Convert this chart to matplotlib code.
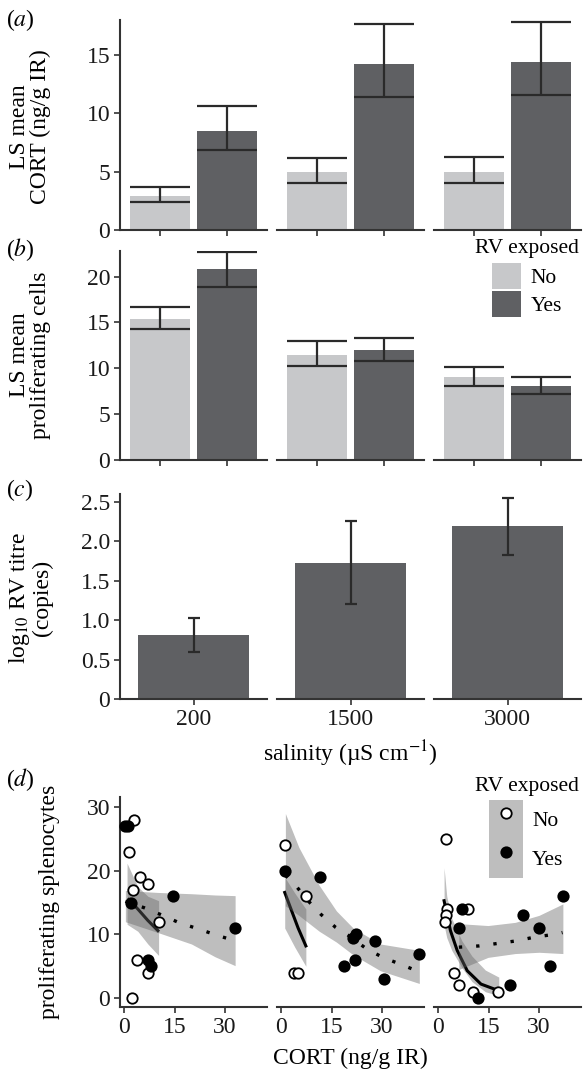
import numpy as np
import matplotlib.pyplot as plt
from matplotlib.patches import Patch
from matplotlib.lines import Line2D

plt.rcParams['font.family'] = ['Liberation Serif', 'DejaVu Serif']
plt.rcParams['mathtext.fontset'] = 'stix'
plt.rcParams['font.size'] = 17

salinity = ['200', '1500', '3000']
rv_groups = ['No', 'Yes']

# (a) LS mean CORT, one [No, Yes] pair per salinity
cort_mean = [[2.95, 8.5], [4.95, 14.2], [5.0, 14.4]]
cort_lo = [[2.4, 6.9], [4.0, 11.4], [4.05, 11.6]]
cort_hi = [[3.7, 10.6], [6.2, 17.7], [6.3, 17.8]]

# (b) LS mean proliferating cells
prolif_mean = [[15.4, 20.8], [11.5, 12.0], [9.05, 8.05]]
prolif_lo = [[14.25, 18.9], [10.2, 10.85], [8.1, 7.2]]
prolif_hi = [[16.7, 22.7], [13.0, 13.3], [10.1, 9.1]]

# (c) log10 RV titre (exposed only)
titre_mean = [0.81, 1.73, 2.19]
titre_lo = [0.60, 1.20, 1.83]
titre_hi = [1.03, 2.26, 2.55]

# (d) raw points, one list per salinity
no_cort = [[2.8, 1.3, 4.7, 6.9, 2.6, 10.2, 3.9, 6.9, 2.3],
           [1.0, 7.3, 3.7, 5.0],
           [2.2, 2.7, 2.4, 1.9, 8.7, 4.7, 6.0, 10.2, 17.9]]
no_cells = [[28, 23, 19, 18, 17, 12, 6, 4, 0],
            [24, 16, 4, 4],
            [25, 14, 13, 12, 14, 4, 2, 1, 1]]
yes_cort = [[0.3, 1.0, 2.0, 14.5, 6.9, 7.9, 33.0],
            [1.2, 11.6, 22.2, 21.4, 28.0, 41.1, 21.9, 18.6, 30.5],
            [7.0, 6.2, 25.3, 30.1, 37.0, 33.3, 21.2, 11.7]]
yes_cells = [[27, 27, 15, 16, 6, 5, 11],
             [20, 19, 10, 9.5, 9, 7, 6, 5, 3],
             [14, 11, 13, 11, 16, 5, 2, 0]]

# (d) fitted curves and confidence bands
no_fit_x = [[1.3, 4, 7, 10], [1.0, 3, 5, 7.3], [1.7, 3.6, 5.6, 8.6, 12.7, 17.8]]
no_fit_y = [[15.5, 14.0, 12.2, 10.6], [16.6, 13.8, 11.0, 8.2], [15.3, 10.6, 7.5, 4.3, 2.2, 1.2]]
no_band_x = [[0.8, 4, 7, 10.2], [1.0, 4, 7.3], [1.7, 2.5, 4, 7, 10, 14, 18]]
no_band_hi = [[21.2, 17.5, 16.0, 15.3], [19.0, 16.5, 14.0], [20.5, 16.0, 12.5, 9.0, 6.6, 4.4, 3.3]]
no_band_lo = [[11.6, 10.5, 8.5, 6.7], [11.0, 8.0, 5.0], [11.5, 9.5, 7.5, 4.8, 2.6, 1.0, 0.4]]

yes_fit_x = [[0.3, 5.9, 11.4, 16.5, 21.9, 27.4, 32.4],
             [1.2, 4.7, 8.3, 11.9, 16.2, 20.7, 25.2, 30.2, 35.1, 40.3],
             [6.1, 12.2, 17.8, 23.4, 28.8, 34.4, 37.0]]
yes_fit_y = [[15.2, 14.2, 13.0, 11.8, 10.9, 9.9, 9.1],
             [19.3, 17.4, 15.1, 13.1, 11.1, 9.6, 7.8, 6.4, 5.4, 4.3],
             [8.0, 8.2, 8.6, 9.0, 9.6, 10.0, 10.3]]
yes_band_x = [[0.3, 10, 20, 27, 33], [1.2, 5.2, 11.3, 16.4, 21.4, 29.5, 41.1], [6.1, 14.8, 22.9, 30.0, 37.1]]
yes_band_hi = [[16.9, 16.6, 16.4, 16.2, 16.1], [29.0, 23.7, 17.7, 13.7, 11.0, 8.5, 7.5], [11.7, 11.4, 11.9, 13.0, 14.8]]
yes_band_lo = [[12.0, 10.3, 8.5, 6.5, 5.1], [14.5, 13.0, 10.5, 8.8, 6.8, 4.3, 2.3], [4.5, 6.4, 7.0, 7.2, 7.0]]

W, H = 584, 1073
FACETS = [(120, 267), (277, 424), (434, 581)]
bar_colors = ['#c7c8ca', '#5f6063']
err_color = '#2a2a2a'
axis_color = '#333333'
band_color = '#646464'
band_alpha = 0.42


def box(x0, x1, top, bottom):
    return [x0 / W, 1 - bottom / H, (x1 - x0) / W, (bottom - top) / H]


def style(ax, first):
    for s in ['top', 'right']:
        ax.spines[s].set_visible(False)
    ax.spines['left'].set_visible(first)
    for s in ['left', 'bottom']:
        ax.spines[s].set_color(axis_color)
        ax.spines[s].set_linewidth(1.5)
    ax.tick_params(direction='out', length=4, width=1.2, color=axis_color,
                   labelcolor='#1a1a1a', pad=3)
    if not first:
        ax.tick_params(axis='y', left=False, labelleft=False)


def bar_panel(fig, top, bottom, means, lo, hi, ylim, yticks):
    for i, (x0, x1) in enumerate(FACETS):
        ax = fig.add_axes(box(x0, x1, top, bottom))
        for j in range(2):
            ax.bar(j, means[i][j], width=0.9, color=bar_colors[j], zorder=1)
            ax.vlines(j, lo[i][j], hi[i][j], color=err_color, lw=1.6, zorder=2)
            ax.hlines([lo[i][j], hi[i][j]], j - 0.45, j + 0.45, color=err_color, lw=1.6, zorder=2)
        ax.set_xlim(-0.6, 1.6)
        ax.set_ylim(ylim)
        ax.set_xticks([0, 1])
        ax.set_xticklabels(['', ''])
        ax.set_yticks(yticks)
        style(ax, i == 0)


def main():
    fig = plt.figure(figsize=(W / 100, H / 100), dpi=100)

    # (a)
    bar_panel(fig, 20, 230, cort_mean, cort_lo, cort_hi, (0, 18), [0, 5, 10, 15])
    fig.text(30 / W, 1 - 127 / H, 'LS mean\nCORT (ng/g IR)', rotation=90,
             ha='center', va='center', linespacing=0.95, multialignment='center')
    fig.text(6 / W, 1 - 20 / H, '($\\it{a}$)', ha='left', va='center')

    # (b)
    bar_panel(fig, 251, 460, prolif_mean, prolif_lo, prolif_hi, (0, 22.8), [0, 5, 10, 15, 20])
    fig.text(30 / W, 1 - 355 / H, 'LS mean\nproliferating cells', rotation=90,
             ha='center', va='center', linespacing=0.95, multialignment='center')
    fig.text(6 / W, 1 - 250 / H, '($\\it{b}$)', ha='left', va='center')
    fig.text(579 / W, 1 - 249 / H, 'RV exposed', ha='right', va='center', fontsize=15.5)
    handles = [Patch(facecolor=c, edgecolor='none') for c in bar_colors]
    fig.legend(handles, rv_groups, loc='upper left',
               bbox_to_anchor=(492 / W, 1 - 263 / H), frameon=False,
               handlelength=1.35, handleheight=1.45, labelspacing=0.12,
               handletextpad=0.45, borderpad=0, borderaxespad=0, fontsize=15.5)

    # (c)
    for i, (x0, x1) in enumerate(FACETS):
        ax = fig.add_axes(box(x0, x1, 494, 699))
        ax.bar(0, titre_mean[i], width=0.9, color=bar_colors[1], zorder=1)
        ax.errorbar(0, titre_mean[i],
                    yerr=[[titre_mean[i] - titre_lo[i]], [titre_hi[i] - titre_mean[i]]],
                    fmt='none', ecolor=err_color, elinewidth=1.6, capsize=4.5,
                    capthick=1.6, zorder=2)
        ax.set_xlim(-0.6, 0.6)
        ax.set_ylim(0, 2.6)
        ax.set_xticks([0])
        ax.set_xticklabels([salinity[i]])
        ax.set_yticks([0, 0.5, 1.0, 1.5, 2.0, 2.5])
        ax.set_yticklabels(['0', '0.5', '1.0', '1.5', '2.0', '2.5'])
        style(ax, i == 0)
    fig.text(30 / W, 1 - 598 / H, 'log$_{10}$ RV titre\n(copies)', rotation=90,
             ha='center', va='center', linespacing=0.95, multialignment='center')
    fig.text(6 / W, 1 - 490 / H, '($\\it{c}$)', ha='left', va='center')
    fig.text(350 / W, 1 - 754 / H, 'salinity (µS cm$^{-1}$)', ha='center', va='center')

    # (d)
    for i, (x0, x1) in enumerate(FACETS):
        ax = fig.add_axes(box(x0, x1, 797, 1007))
        ax.fill_between(no_band_x[i], no_band_lo[i], no_band_hi[i], color=band_color,
                        alpha=band_alpha, lw=0, zorder=1)
        ax.plot(no_fit_x[i], no_fit_y[i], color='black', lw=2.2, zorder=2)
        ax.fill_between(yes_band_x[i], yes_band_lo[i], yes_band_hi[i], color=band_color,
                        alpha=band_alpha, lw=0, zorder=3)
        ax.plot(yes_fit_x[i], yes_fit_y[i], color='black', lw=2.4, ls=(0, (1, 4.2)),
                dash_capstyle='butt', zorder=4)
        ax.plot(no_cort[i], no_cells[i], 'o', mfc='white', mec='black', ms=7.5,
                mew=1.3, zorder=5, clip_on=False)
        ax.plot(yes_cort[i], yes_cells[i], 'o', mfc='black', mec='black', ms=7.5,
                mew=1.3, zorder=5, clip_on=False)
        ax.set_xlim(-1.3, 42.5)
        ax.set_ylim(-1.4, 31.6)
        ax.set_xticks([0, 15, 30])
        ax.set_yticks([0, 10, 20, 30])
        style(ax, i == 0)
    fig.text(50 / W, 1 - 902 / H, 'proliferating splenocytes', rotation=90,
             ha='center', va='center')
    fig.text(6 / W, 1 - 780 / H, '($\\it{d}$)', ha='left', va='center')
    fig.text(350 / W, 1 - 1058 / H, 'CORT (ng/g IR)', ha='center', va='center')

    fig.text(579 / W, 1 - 787 / H, 'RV exposed', ha='right', va='center', fontsize=15.5)
    open_key = Line2D([], [], ls='none', marker='o', mfc='white', mec='black', ms=7.5, mew=1.3)
    fill_key = Line2D([], [], ls='none', marker='o', mfc='black', mec='black', ms=7.5, mew=1.3)
    bg = Patch(facecolor=band_color, alpha=band_alpha, edgecolor='none')
    fig.legend([(bg, open_key), (bg, fill_key)], rv_groups,
               loc='upper left', bbox_to_anchor=(489 / W, 1 - 800 / H), frameon=False,
               handlelength=1.6, handleheight=2.4, labelspacing=0,
               handletextpad=0.4, borderpad=0, borderaxespad=0, fontsize=15.5)

    fig.savefig('out.png', dpi=100)


if __name__ == '__main__':
    main()
